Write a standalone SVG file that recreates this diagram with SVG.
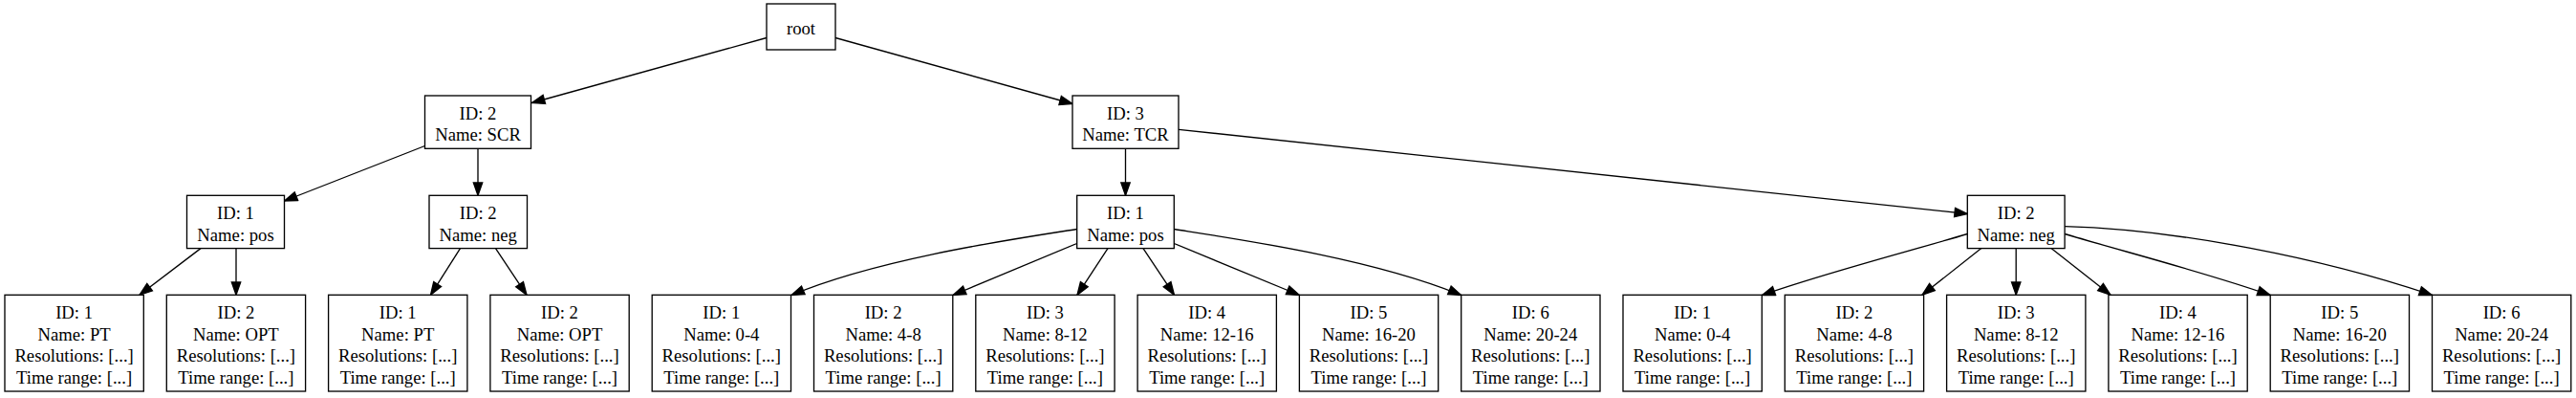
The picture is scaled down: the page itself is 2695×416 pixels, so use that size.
<svg xmlns="http://www.w3.org/2000/svg" width="2695" height="416" viewBox="0 0 2695 416">
<style>
.n rect{fill:#fff;stroke:#000;stroke-width:1.33}
text{font-family:"Liberation Serif","Times New Roman",serif;font-size:18.67px;text-anchor:middle;fill:#000}
.e path{fill:none;stroke:#000;stroke-width:1.33;marker-end:url(#ah)}
</style>
<defs>
<marker id="ah" markerUnits="userSpaceOnUse" markerWidth="16" markerHeight="12" refX="13.33" refY="4.67" orient="auto" overflow="visible"><path d="M0,0 L13.33,4.67 L0,9.33 z" fill="#000" stroke="#000" stroke-width="1.33"/></marker>
</defs>
<rect width="2695" height="416" fill="#fff"/>
<g id="edges" class="e">
<path d="M802,39.5 L556.5,107.5"/>
<path d="M874,39.5 L1122,108.5"/>
<path d="M444.5,152.5 L297.5,210"/>
<path d="M500,155.3 L500,204.3"/>
<path d="M210,259.6 L146,308.3"/>
<path d="M247,259.6 L247,308.3"/>
<path d="M481.5,259.6 L450.5,308.3"/>
<path d="M518.5,259.6 L551,308.3"/>
<path d="M1177.5,155.3 L1177.5,204.3"/>
<path d="M1233,135.3 L2058.3,223.5"/>
<path d="M1126.7,239.5 C1060,250 920,270 828,308.5"/>
<path d="M1126.7,254.5 L997,308.5"/>
<path d="M1159,259.6 L1127,308.3"/>
<path d="M1196,259.6 L1228.5,308.3"/>
<path d="M1228.3,254.5 L1359.4,308.5"/>
<path d="M1228.3,239.5 C1295,250 1435,270 1528.7,308.5"/>
<path d="M2058.3,244.5 C2000,262 1910,285 1843.5,308.5"/>
<path d="M2072.8,259.6 L2011,308.3"/>
<path d="M2109.2,259.6 L2109.2,308.3"/>
<path d="M2146,259.6 L2208,308.3"/>
<path d="M2160.1,244.5 C2218.4,262 2308.4,285 2375.2,308.5"/>
<path d="M2160.1,236.7 C2280,240 2430,270 2544.5,308.5"/>
</g>
<g id="root" class="n"><rect x="802" y="4" width="72" height="48"/><text x="838" y="36">root</text></g>
<g id="scr" class="n"><rect x="444.5" y="100" width="111" height="55.3"/><text x="500" y="125">ID: 2</text><text x="500" y="147.3">Name: SCR</text></g>
<g id="tcr" class="n"><rect x="1122" y="100" width="111" height="55.3"/><text x="1177.5" y="125">ID: 3</text><text x="1177.5" y="147.3">Name: TCR</text></g>
<g id="scr_pos" class="n"><rect x="195.5" y="204.3" width="102" height="55.3"/><text x="246.5" y="229.3">ID: 1</text><text x="246.5" y="251.6">Name: pos</text></g>
<g id="scr_neg" class="n"><rect x="449" y="204.3" width="102.5" height="55.3"/><text x="500.2" y="229.3">ID: 2</text><text x="500.2" y="251.6">Name: neg</text></g>
<g id="tcr_pos" class="n"><rect x="1126.7" y="204.3" width="101.6" height="55.3"/><text x="1177.5" y="229.3">ID: 1</text><text x="1177.5" y="251.6">Name: pos</text></g>
<g id="tcr_neg" class="n"><rect x="2058.3" y="204.3" width="101.8" height="55.3"/><text x="2109.2" y="229.3">ID: 2</text><text x="2109.2" y="251.6">Name: neg</text></g>
<g id="leaf0" class="n"><rect x="5" y="308.3" width="145.3" height="100.7"/><text x="77.6" y="333.3">ID: 1</text><text x="77.6" y="355.7">Name: PT</text><text x="77.6" y="378.1">Resolutions: [...]</text><text x="77.6" y="400.5">Time range: [...]</text></g>
<g id="leaf1" class="n"><rect x="174.3" y="308.3" width="145.3" height="100.7"/><text x="246.9" y="333.3">ID: 2</text><text x="246.9" y="355.7">Name: OPT</text><text x="246.9" y="378.1">Resolutions: [...]</text><text x="246.9" y="400.5">Time range: [...]</text></g>
<g id="leaf2" class="n"><rect x="343.6" y="308.3" width="145.3" height="100.7"/><text x="416.2" y="333.3">ID: 1</text><text x="416.2" y="355.7">Name: PT</text><text x="416.2" y="378.1">Resolutions: [...]</text><text x="416.2" y="400.5">Time range: [...]</text></g>
<g id="leaf3" class="n"><rect x="512.9" y="308.3" width="145.3" height="100.7"/><text x="585.5" y="333.3">ID: 2</text><text x="585.5" y="355.7">Name: OPT</text><text x="585.5" y="378.1">Resolutions: [...]</text><text x="585.5" y="400.5">Time range: [...]</text></g>
<g id="leaf4" class="n"><rect x="682.2" y="308.3" width="145.3" height="100.7"/><text x="754.8" y="333.3">ID: 1</text><text x="754.8" y="355.7">Name: 0-4</text><text x="754.8" y="378.1">Resolutions: [...]</text><text x="754.8" y="400.5">Time range: [...]</text></g>
<g id="leaf5" class="n"><rect x="851.5" y="308.3" width="145.3" height="100.7"/><text x="924.1" y="333.3">ID: 2</text><text x="924.1" y="355.7">Name: 4-8</text><text x="924.1" y="378.1">Resolutions: [...]</text><text x="924.1" y="400.5">Time range: [...]</text></g>
<g id="leaf6" class="n"><rect x="1020.8" y="308.3" width="145.3" height="100.7"/><text x="1093.4" y="333.3">ID: 3</text><text x="1093.4" y="355.7">Name: 8-12</text><text x="1093.4" y="378.1">Resolutions: [...]</text><text x="1093.4" y="400.5">Time range: [...]</text></g>
<g id="leaf7" class="n"><rect x="1190.1" y="308.3" width="145.3" height="100.7"/><text x="1262.7" y="333.3">ID: 4</text><text x="1262.7" y="355.7">Name: 12-16</text><text x="1262.7" y="378.1">Resolutions: [...]</text><text x="1262.7" y="400.5">Time range: [...]</text></g>
<g id="leaf8" class="n"><rect x="1359.4" y="308.3" width="145.3" height="100.7"/><text x="1432" y="333.3">ID: 5</text><text x="1432" y="355.7">Name: 16-20</text><text x="1432" y="378.1">Resolutions: [...]</text><text x="1432" y="400.5">Time range: [...]</text></g>
<g id="leaf9" class="n"><rect x="1528.7" y="308.3" width="145.3" height="100.7"/><text x="1601.3" y="333.3">ID: 6</text><text x="1601.3" y="355.7">Name: 20-24</text><text x="1601.3" y="378.1">Resolutions: [...]</text><text x="1601.3" y="400.5">Time range: [...]</text></g>
<g id="leaf10" class="n"><rect x="1698" y="308.3" width="145.3" height="100.7"/><text x="1770.6" y="333.3">ID: 1</text><text x="1770.6" y="355.7">Name: 0-4</text><text x="1770.6" y="378.1">Resolutions: [...]</text><text x="1770.6" y="400.5">Time range: [...]</text></g>
<g id="leaf11" class="n"><rect x="1867.3" y="308.3" width="145.3" height="100.7"/><text x="1939.9" y="333.3">ID: 2</text><text x="1939.9" y="355.7">Name: 4-8</text><text x="1939.9" y="378.1">Resolutions: [...]</text><text x="1939.9" y="400.5">Time range: [...]</text></g>
<g id="leaf12" class="n"><rect x="2036.6" y="308.3" width="145.3" height="100.7"/><text x="2109.2" y="333.3">ID: 3</text><text x="2109.2" y="355.7">Name: 8-12</text><text x="2109.2" y="378.1">Resolutions: [...]</text><text x="2109.2" y="400.5">Time range: [...]</text></g>
<g id="leaf13" class="n"><rect x="2205.9" y="308.3" width="145.3" height="100.7"/><text x="2278.5" y="333.3">ID: 4</text><text x="2278.5" y="355.7">Name: 12-16</text><text x="2278.5" y="378.1">Resolutions: [...]</text><text x="2278.5" y="400.5">Time range: [...]</text></g>
<g id="leaf14" class="n"><rect x="2375.2" y="308.3" width="145.3" height="100.7"/><text x="2447.8" y="333.3">ID: 5</text><text x="2447.8" y="355.7">Name: 16-20</text><text x="2447.8" y="378.1">Resolutions: [...]</text><text x="2447.8" y="400.5">Time range: [...]</text></g>
<g id="leaf15" class="n"><rect x="2544.5" y="308.3" width="145.3" height="100.7"/><text x="2617.1" y="333.3">ID: 6</text><text x="2617.1" y="355.7">Name: 20-24</text><text x="2617.1" y="378.1">Resolutions: [...]</text><text x="2617.1" y="400.5">Time range: [...]</text></g>
</svg>
